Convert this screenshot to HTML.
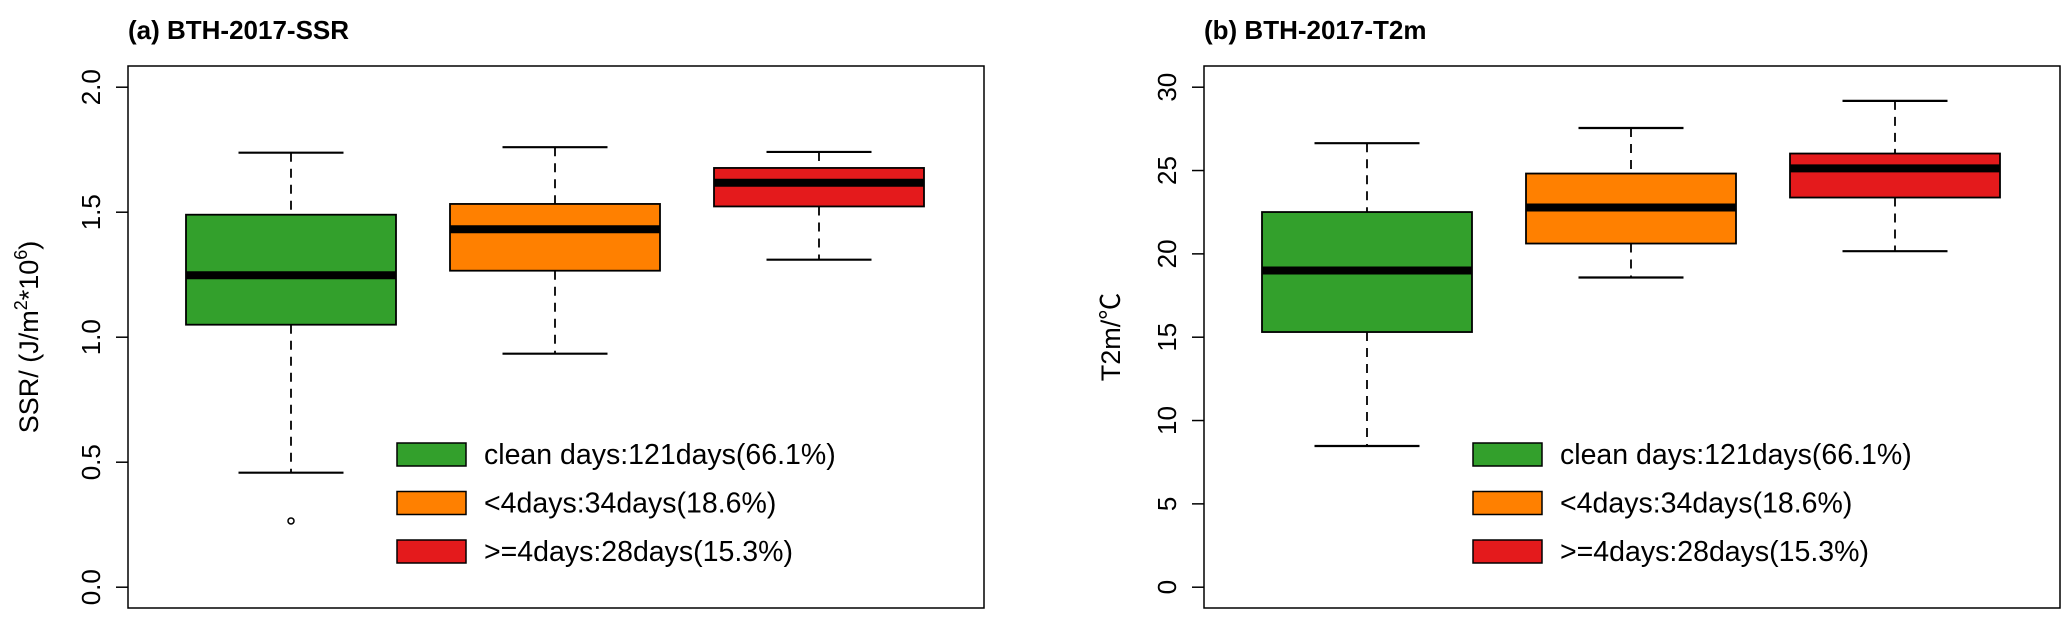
<!DOCTYPE html>
<html><head><meta charset="utf-8"><style>
html,body{margin:0;padding:0;background:#fff;}
svg{display:block;font-family:"Liberation Sans","Noto Sans CJK SC",sans-serif;}
</style></head><body>
<svg id="chart" width="2067" height="620" viewBox="0 0 2067 620" xmlns="http://www.w3.org/2000/svg"></svg>
<script>
const categories = ["clean days","<4days",">=4days"];
const legendLabels = ["clean days:121days(66.1%)","<4days:34days(18.6%)",">=4days:28days(15.3%)"];
const colors = ["#33a02c","#ff8000","#e41a1c"];
// [lower, q1, median, q3, upper]
const ssrStats = [[0.458,1.05,1.248,1.49,1.738],[0.934,1.266,1.432,1.533,1.76],[1.31,1.523,1.618,1.677,1.741]];
const ssrOutliers = [[0.265],[],[]];
const ssrTicks = [0,0.5,1.0,1.5,2.0];
const ssrTickLabels = ["0.0","0.5","1.0","1.5","2.0"];
const t2mStats = [[8.47,15.31,19.0,22.51,26.64],[18.58,20.62,22.78,24.82,27.55],[20.16,23.38,25.13,26.02,29.18]];
const t2mOutliers = [[],[],[]];
const t2mTicks = [0,5,10,15,20,25,30];
const t2mTickLabels = ["0","5","10","15","20","25","30"];

const NS="http://www.w3.org/2000/svg";
const svg=document.getElementById('chart');
function mk(tag,attrs,parent,text){const e=document.createElementNS(NS,tag);for(const k in attrs)e.setAttribute(k,attrs[k]);if(text!==undefined)e.textContent=text;(parent||svg).appendChild(e);return e;}

function panel(opt){
  const g=mk('g',{});
  
  
  const L=opt.left,R=opt.right,T=66,B=608;
  const y=v=>587.2-(v-opt.min)/(opt.max-opt.min)*500;
  const x=i=>L+163+264*i;
  const t=mk('text',{x:L,y:39,'font-size':26,'font-weight':'bold'},g,opt.title);
  
  
  const fr=mk('rect',{x:L,y:T,width:R-L,height:B-T,fill:'none',stroke:'#000','stroke-width':1.5},g);
  
  
  opt.ticks.forEach((v,i)=>{
    const tk=mk('line',{x1:L-12,x2:L,y1:y(v),y2:y(v),stroke:'#000','stroke-width':1.5},g);
    
    
    const tx=L-28;
    const tl=mk('text',{x:tx,y:y(v),'font-size':26,'text-anchor':'middle',transform:`rotate(-90 ${tx} ${y(v)})`},g,opt.tickLabels[i]);
    
    
  });
  const yt=mk('text',{x:opt.ytx,y:337,'font-size':27,'text-anchor':'middle',transform:`rotate(-90 ${opt.ytx} 337)`},g);
  
  
  if(opt.ssr){yt.textContent='SSR/ (J/m';mk('tspan',{'font-size':18,dy:-11},yt,'2');mk('tspan',{dy:11},yt,'*10');mk('tspan',{'font-size':18,dy:-11},yt,'6');mk('tspan',{dy:11},yt,')');}
  else yt.textContent='T2m/℃';
  opt.stats.forEach((s,i)=>{
    const cx=x(i),hw=105,cw=52.5;
    const bg=mk('g',{},g);
    
    
    mk('line',{x1:cx,x2:cx,y1:y(s[4]),y2:y(s[3]),stroke:'#000','stroke-width':1.8,'stroke-dasharray':'9,7'},bg);
    mk('line',{x1:cx,x2:cx,y1:y(s[1]),y2:y(s[0]),stroke:'#000','stroke-width':1.8,'stroke-dasharray':'9,7'},bg);
    mk('line',{x1:cx-cw,x2:cx+cw,y1:y(s[4]),y2:y(s[4]),stroke:'#000','stroke-width':2.2},bg);
    mk('line',{x1:cx-cw,x2:cx+cw,y1:y(s[0]),y2:y(s[0]),stroke:'#000','stroke-width':2.2},bg);
    mk('rect',{x:cx-hw,y:y(s[3]),width:2*hw,height:y(s[1])-y(s[3]),fill:colors[i],stroke:'#000','stroke-width':1.8},bg);
    mk('line',{x1:cx-hw,x2:cx+hw,y1:y(s[2]),y2:y(s[2]),stroke:'#000','stroke-width':8},bg);
    opt.outliers[i].forEach(o=>{
      const c=mk('circle',{cx:cx,cy:y(o),r:3,fill:'none',stroke:'#000','stroke-width':1.5},bg);
      
      
    });
  });
  const lg=mk('g',{},g);
  
  
  legendLabels.forEach((lab,i)=>{
    const ly=443+i*48.5;
    const e=mk('g',{},lg);
    
    
    mk('rect',{x:opt.legX,y:ly,width:69,height:23,fill:colors[i],stroke:'#000','stroke-width':1.5},e);
    mk('text',{x:opt.legX+87,y:ly+21,'font-size':28.5},e,lab);
  });
}
panel({name:'ssr-panel',title:'(a) BTH-2017-SSR',left:128,right:984,min:0,max:2,stats:ssrStats,outliers:ssrOutliers,ticks:ssrTicks,tickLabels:ssrTickLabels,ytx:38,ssr:true,legX:397});
panel({name:'t2m-panel',title:'(b) BTH-2017-T2m',left:1204,right:2060,min:0,max:30,stats:t2mStats,outliers:t2mOutliers,ticks:t2mTicks,tickLabels:t2mTickLabels,ytx:1120,ssr:false,legX:1473});
</script>
</body></html>
